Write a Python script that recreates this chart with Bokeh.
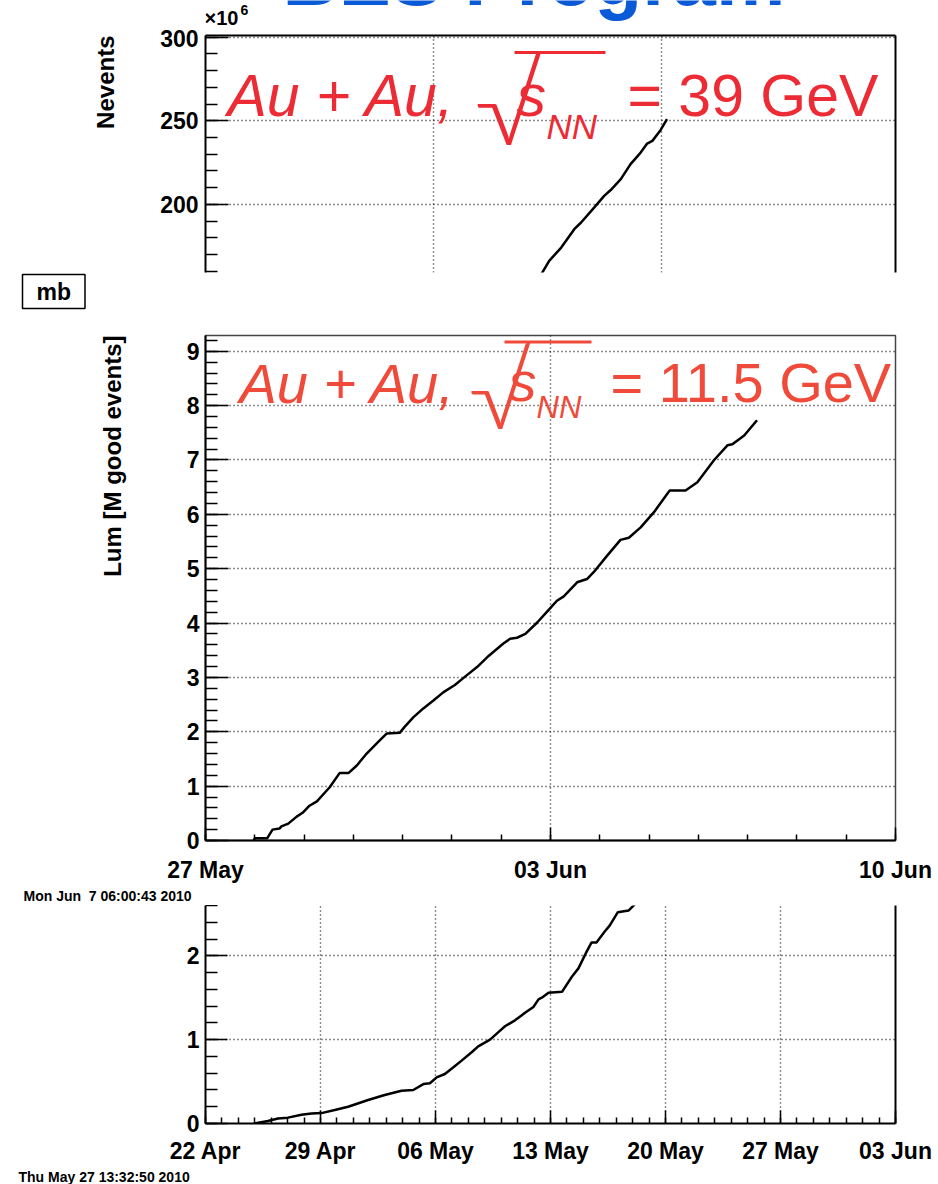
import numpy as np
from bokeh.plotting import figure
from bokeh.models import (Range1d, FixedTicker, LinearAxis, Label, BoxAnnotation, Grid,
                          ColumnDataSource, Title)
from bokeh.layouts import column
from bokeh.embed import file_html
from bokeh.resources import INLINE

# ---------------- data ----------------
title_text = "BES Program"

# top panel: Au+Au 39 GeV, Nevents (x10^6) vs day
nev_days = [10.25, 10.56, 10.93, 11.33, 11.54, 11.94, 12.25, 12.45, 12.76, 13.06, 13.37, 13.57, 13.73, 13.98, 14.18]
nev_vals = [156.0, 166.3, 174.2, 185.2, 189.2, 198.1, 205.1, 208.6, 215.1, 224.1, 231.0, 236.4, 238.0, 244.4, 251.0]
nev_yticks = [200, 250, 300]
nev_xgrid = [7, 14]

# middle panel: Au+Au 11.5 GeV, days since 27 May
lum_days = [0.98, 1.0, 1.25, 1.36, 1.50, 1.54, 1.68, 1.85, 1.97, 2.11, 2.26, 2.46, 2.52, 2.72, 2.90, 3.07, 3.27,
            3.51, 3.68, 3.94, 4.04, 4.22, 4.42, 4.63, 4.83, 5.06, 5.26, 5.51, 5.75, 6.05, 6.18, 6.32, 6.49,
            6.73, 7.0, 7.13, 7.27, 7.54, 7.74, 7.88, 8.15, 8.42, 8.59, 8.83, 9.10, 9.37, 9.42, 9.74, 9.98,
            10.32, 10.59, 10.69, 10.93, 11.19]
lum_vals = [0.0, 0.04, 0.04, 0.20, 0.22, 0.26, 0.31, 0.44, 0.51, 0.64, 0.72, 0.92, 0.98, 1.24, 1.24, 1.38, 1.60,
            1.82, 1.97, 1.98, 2.09, 2.27, 2.43, 2.58, 2.73, 2.86, 3.01, 3.19, 3.40, 3.63, 3.71, 3.73, 3.80,
            4.01, 4.28, 4.41, 4.49, 4.75, 4.81, 4.94, 5.24, 5.53, 5.57, 5.76, 6.04, 6.38, 6.44, 6.44, 6.59,
            7.00, 7.27, 7.29, 7.45, 7.73]
lum_tick_days = [0, 7, 14]
lum_tick_labels = ["27 May", "03 Jun", "10 Jun"]
lum_yticks = [0, 1, 2, 3, 4, 5, 6, 7, 8, 9]

# bottom panel: days since 22 Apr
bot_days = [2.95, 3.8, 4.41, 5.02, 5.84, 6.45, 7.06, 7.87, 8.68, 9.9, 10.91, 11.93, 12.65, 13.26, 13.66, 14.07,
            14.57, 15.09, 15.59, 16.2, 16.6, 17.32, 17.83, 18.23, 18.84, 19.45, 19.96, 20.27, 20.47, 20.88,
            21.7, 22.3, 22.7, 23.2, 23.5, 23.8, 24.3, 24.6, 25.1, 25.75, 26.16, 26.4]
bot_vals = [0.0, 0.03, 0.06, 0.07, 0.104, 0.12, 0.124, 0.16, 0.20, 0.28, 0.34, 0.39, 0.40, 0.47, 0.48, 0.55,
            0.59, 0.67, 0.75, 0.85, 0.92, 1.00, 1.09, 1.16, 1.23, 1.32, 1.39, 1.48, 1.50, 1.56,
            1.57, 1.75, 1.85, 2.05, 2.16, 2.16, 2.29, 2.36, 2.52, 2.54, 2.62, 2.70]
bot_tick_days = [0, 7, 14, 21, 28, 35, 42]
bot_tick_labels = ["22 Apr", "29 Apr", "06 May", "13 May", "20 May", "27 May", "03 Jun"]
bot_yticks = [0, 1, 2]

# ---------------- style ----------------
FONT = "Liberation Sans"
RAD_FONT = "Lato Light, Liberation Sans"
RED1 = "#ec2b35"
RED2 = "#ef4a3a"
BLUE = "#0a5ad8"
W = 938
FL, FR = 205, 895          # common frame left / right (page px)
MID = 0.3465               # Liberation Sans: baseline -> middle of text box (em)


def make_fig(img_top, height, frame, xr, yr, xaxis=True, yaxis=True):
    L, R, T, B = frame
    p = figure(width=W, height=height, x_range=Range1d(*xr), y_range=Range1d(*yr),
               output_backend="svg", toolbar_location=None,
               x_axis_location="below" if xaxis else None,
               y_axis_location="left" if yaxis else None,
               min_border_left=L, min_border_right=W - R,
               min_border_top=T - img_top, min_border_bottom=img_top + height - B)
    for g in list(p.xgrid) + list(p.ygrid):
        g.visible = False
    p.background_fill_color = "white"
    p.border_fill_color = "white"
    return p


def style_axis(ax, tick_in, minor_in, standoff, size="23px"):
    ax.axis_line_width = 2
    ax.axis_line_color = "black"
    ax.major_tick_in = tick_in
    ax.major_tick_out = 0
    ax.minor_tick_in = minor_in
    ax.minor_tick_out = 0
    ax.major_tick_line_width = 1.5
    ax.minor_tick_line_width = 1.5
    ax.major_tick_line_color = "black"
    ax.minor_tick_line_color = "black"
    ax.major_label_text_font = FONT
    ax.major_label_text_font_style = "bold"
    ax.major_label_text_font_size = size
    ax.major_label_text_color = "black"
    ax.major_label_standoff = standoff


def bare_axis(p, side, width=2, color="black"):
    ax = LinearAxis(ticker=FixedTicker(ticks=[]), major_label_text_font_size="0px",
                    major_tick_in=0, major_tick_out=0, minor_tick_in=0, minor_tick_out=0,
                    major_label_standoff=0, axis_line_width=width, axis_line_color=color)
    p.add_layout(ax, side)


def add_grid(p, dim, ticks):
    p.add_layout(Grid(dimension=dim, ticker=FixedTicker(ticks=ticks), grid_line_color="black",
                      grid_line_dash="1 3", grid_line_width=1.4, grid_line_alpha=0.9))


def to_data(fr, px, py):
    L, R, T, B, x0, x1, y0, y1 = fr
    return x0 + (px - L) / (R - L) * (x1 - x0), y0 + (B - py) / (B - T) * (y1 - y0)


def lab(p, fr, px, base_y, text, size, color="black", style="bold", align="left", font=FONT):
    """Place text with its alphabetic baseline at page y = base_y (anchor is the middle of the text box)."""
    x, y = to_data(fr, px, base_y - MID * size)
    p.add_layout(Label(x=x, y=y, text=text, text_font=font, text_font_size=f"{size}px", text_color=color,
                       text_font_style=style, text_align=align, text_baseline="middle"))


def hbar(p, fr, px0, px1, py0, py1, color):
    x0, y0 = to_data(fr, px0, py1)
    x1, y1 = to_data(fr, px1, py0)
    p.add_layout(BoxAnnotation(left=x0, right=x1, bottom=y0, top=y1, fill_color=color, fill_alpha=1.0,
                               line_color=None, line_alpha=0))


def side_title(p, side, text, size, align, offset=0, standoff=0, **kw):
    t = Title(text=text, align=align, offset=offset, standoff=standoff, text_font=FONT,
              text_font_size=size, text_font_style="bold", text_color="black", **kw)
    p.add_layout(t, side)


# ---------------- header strip (title, exponent) ----------------
F0 = (FL, FR, 0, 29)
fr0 = F0 + (0, 1) + (0, 1)
p0 = make_fig(0, 29, F0, (0, 1), (0, 1), xaxis=False, yaxis=False)
p0.outline_line_color = None
lab(p0, fr0, 282, 5, title_text, 78, color=BLUE)
lab(p0, fr0, 204, 24.8, "\u00d710", 20)
lab(p0, fr0, 240, 14.5, "6", 14)

# ---------------- top panel (39 GeV) ----------------
F1 = (FL, FR, 35, 272)
XR1, YR1 = (0, 21.2), (159.3, 301.0)
fr1 = F1 + XR1 + YR1
p1 = make_fig(29, 285, F1, XR1, YR1, xaxis=False)
p1.outline_line_color = None
style_axis(p1.yaxis[0], 23, 12, 7)
p1.yaxis[0].ticker = FixedTicker(ticks=nev_yticks, minor_ticks=list(range(160, 310, 10)))
bare_axis(p1, "above", 2)
bare_axis(p1, "right", 2)
side_title(p1, "left", "Nevents", "24px", "right", standoff=77)
side_title(p1, "below", "mb", "23px", "left", offset=-183, standoff=4, vertical_align="top",
           border_line_color="black", border_line_width=1.5, background_fill_color="white",
           padding=(14, 4))
add_grid(p1, 0, nev_xgrid)
add_grid(p1, 1, nev_yticks)
p1.line(x="d", y="v", source=ColumnDataSource(dict(d=nev_days, v=nev_vals)),
        line_color="black", line_width=2.5)

lab(p1, fr1, 227, 116, "Au + Au,", 59, color=RED1, style="italic")
lab(p1, fr1, 474, 140, "\u221a", 108, color=RED1, style="normal", font=RAD_FONT)
hbar(p1, fr1, 514, 605, 50.5, 53.5, RED1)
lab(p1, fr1, 516, 116, "s", 59, color=RED1, style="italic")
lab(p1, fr1, 546, 138, "NN", 35, color=RED1, style="italic")
lab(p1, fr1, 627, 116, "= 39 GeV", 59, color=RED1, style="normal")

# ---------------- middle panel (11.5 GeV) ----------------
F2 = (FL, FR, 335, 840)
XR2, YR2 = (0, 14), (0, 9.29)
fr2 = F2 + XR2 + YR2
p2 = make_fig(314, 591, F2, XR2, YR2)
p2.outline_line_color = "#444444"
p2.outline_line_width = 1.5
style_axis(p2.yaxis[0], 23, 12, 6)
p2.yaxis[0].ticker = FixedTicker(ticks=lum_yticks, minor_ticks=[round(0.2 * i, 1) for i in range(47)])
style_axis(p2.xaxis[0], 13, 6, 16)
p2.xaxis[0].ticker = FixedTicker(ticks=lum_tick_days, minor_ticks=list(range(0, 15)))
p2.xaxis[0].major_label_overrides = dict(zip(lum_tick_days, lum_tick_labels))
side_title(p2, "left", "Lum [M good events]", "24px", "right", standoff=115)
side_title(p2, "below", "Mon Jun \u00a07 06:00:43 2010", "14px", "left", offset=-182, standoff=0)
add_grid(p2, 0, lum_tick_days)
add_grid(p2, 1, lum_yticks[1:])
p2.line(x="d", y="v", source=ColumnDataSource(dict(d=lum_days, v=lum_vals)),
        line_color="black", line_width=2.5)

lab(p2, fr2, 239, 402, "Au + Au,", 56, color=RED2, style="italic")
lab(p2, fr2, 468, 424, "\u221a", 100, color=RED2, style="normal", font=RAD_FONT)
hbar(p2, fr2, 504, 591, 340, 343, RED2)
lab(p2, fr2, 508, 400, "s", 56, color=RED2, style="italic")
lab(p2, fr2, 536, 418, "NN", 31, color=RED2, style="italic")
lab(p2, fr2, 610, 401, "= 11.5 GeV", 56, color=RED2, style="normal")

# ---------------- bottom panel ----------------
F3 = (FL, FR, 905, 1123)
XR3, YR3 = (0, 42), (0, 2.60)
p3 = make_fig(905, 279, F3, XR3, YR3)
p3.outline_line_color = None
style_axis(p3.yaxis[0], 22, 12, 6)
p3.yaxis[0].ticker = FixedTicker(ticks=bot_yticks, minor_ticks=[round(0.2 * i, 1) for i in range(14)])
style_axis(p3.xaxis[0], 13, 6, 14)
p3.xaxis[0].ticker = FixedTicker(ticks=bot_tick_days, minor_ticks=list(range(0, 43)))
p3.xaxis[0].major_label_overrides = dict(zip(bot_tick_days, bot_tick_labels))
bare_axis(p3, "right", 2)
side_title(p3, "below", "Thu May 27 13:32:50 2010", "14px", "left", offset=-187, standoff=0)
add_grid(p3, 0, bot_tick_days[1:-1])
add_grid(p3, 1, bot_yticks[1:])
p3.line(x="d", y="v", source=ColumnDataSource(dict(d=bot_days, v=bot_vals)),
        line_color="black", line_width=2.5)

layout = column(p0, p1, p2, p3, spacing=0)
open("out.html", "w").write(file_html(layout, INLINE))
